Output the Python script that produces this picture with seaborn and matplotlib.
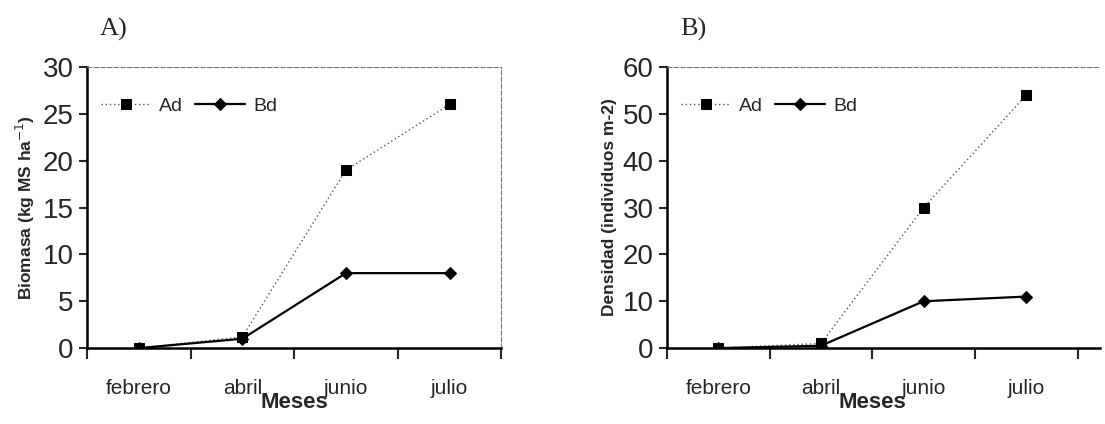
import matplotlib.pyplot as plt
import pandas as pd
import seaborn as sns

meses = ['febrero', 'abril', 'junio', 'julio']

# Panel A - biomasa (kg MS ha-1)
biomasa_ad = [0.0, 1.2, 19.0, 26.0]
biomasa_bd = [0.0, 1.0, 8.0, 8.0]

# Panel B - densidad (individuos m-2)
densidad_ad = [0.0, 1.0, 30.0, 54.0]
densidad_bd = [0.0, 0.5, 10.0, 11.0]

sns.set_style('ticks')
plt.rcParams['font.family'] = ['Liberation Sans', 'DejaVu Sans']


def draw_panel(ax, ad, bd, ylim, yticks, ylabel, letter, xmax):
    df = pd.DataFrame({'mes': meses * 2,
                       'valor': ad + bd,
                       'serie': ['Ad'] * 4 + ['Bd'] * 4})
    sns.lineplot(data=df[df.serie == 'Ad'], x='mes', y='valor', ax=ax,
                 color='#555555', linestyle=(0, (1, 2)), linewidth=1,
                 marker='s', markersize=7, markerfacecolor='black',
                 markeredgecolor='black', label='Ad', sort=False)
    sns.lineplot(data=df[df.serie == 'Bd'], x='mes', y='valor', ax=ax,
                 color='black', linewidth=1.6,
                 marker='D', markersize=6.5, markerfacecolor='black',
                 markeredgecolor='black', label='Bd', sort=False)

    ax.set_xlim(-0.5, xmax)
    ax.set_ylim(*ylim)
    ax.set_yticks(yticks)
    ax.set_xticks(range(len(meses)))
    ax.set_xticklabels(meses, fontsize=15)
    ax.set_xticks([-0.5, 0.5, 1.5, 2.5, 3.5], minor=True)
    ax.tick_params(axis='x', which='major', length=0, pad=22)
    ax.tick_params(axis='x', which='minor', length=8, width=1.5, direction='out')
    ax.tick_params(axis='y', labelsize=20, length=6, width=1.5, direction='out')

    for s in ['left', 'bottom']:
        ax.spines[s].set_linewidth(1.8)
        ax.spines[s].set_color('black')
    for s in ['top', 'right']:
        ax.spines[s].set_linestyle((0, (4, 2)))
        ax.spines[s].set_color('#777777')
        ax.spines[s].set_linewidth(0.8)

    ax.set_xlabel('Meses', fontsize=16, fontweight='bold')
    # keep "Meses" centred on the four categories
    ax.xaxis.set_label_coords(2.0 / (xmax + 0.5), -0.155)
    ax.set_ylabel(ylabel, fontsize=12.5, fontweight='bold', labelpad=4)
    ax.legend(loc='upper left', ncol=2, frameon=False, fontsize=14,
              bbox_to_anchor=(0.0, 0.94), handlelength=2.6,
              columnspacing=0.6, handletextpad=0.4, borderaxespad=0.3)
    ax.text(0.03, 1.11, letter, transform=ax.transAxes, fontsize=19,
            family=['Liberation Serif', 'DejaVu Serif'])


fig = plt.figure(figsize=(11.05, 4.24), dpi=100)
ax1 = fig.add_axes([0.0787, 0.179, 0.375, 0.663])
ax2 = fig.add_axes([0.6036, 0.179, 0.392, 0.663])

draw_panel(ax1, biomasa_ad, biomasa_bd, (0, 30), range(0, 31, 5),
           'Biomasa (kg MS ha$^{-1}$)', 'A)', 3.5)
draw_panel(ax2, densidad_ad, densidad_bd, (0, 60), range(0, 61, 10),
           'Densidad (individuos m-2)', 'B)', 3.72)
# panel B is cut off at the right edge in the original figure
ax2.spines['right'].set_visible(False)

fig.savefig('out.png', dpi=100)
